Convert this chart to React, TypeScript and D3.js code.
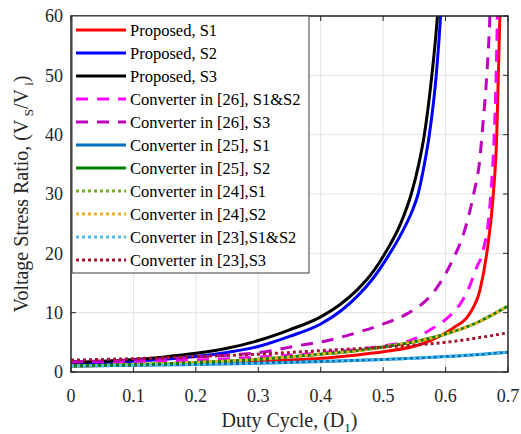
import React from 'react';
import * as d3 from 'd3';

// duty cycle samples for the slow curves
const dGrid = [0, 0.1, 0.2, 0.3, 0.4, 0.5, 0.6, 0.7];
const dGridGreen = [0, 0.1, 0.2, 0.3, 0.4, 0.45, 0.5, 0.55, 0.6, 0.65, 0.7];

// Proposed converter
const propS1D = [0, 0.1, 0.2, 0.27, 0.35, 0.4, 0.45, 0.5, 0.564, 0.59, 0.612, 0.639, 0.655, 0.666, 0.6765, 0.682, 0.6845, 0.687, 0.689];
const propS1V = [1.0, 1.2, 1.45, 1.7, 2.0, 2.3, 2.8, 3.4, 4.8, 6.0, 7.4, 9.9, 13.8, 20, 30, 40, 50, 60, 70];
const propS2D = [0, 0.05, 0.1, 0.15, 0.2, 0.25, 0.3, 0.35, 0.4, 0.431, 0.458, 0.484, 0.506, 0.53, 0.546, 0.556, 0.566, 0.574, 0.585, 0.592, 0.597];
const propS2V = [1.4, 1.55, 1.8, 2.15, 2.6, 3.3, 4.3, 6.0, 8.1, 10.2, 12.7, 15.8, 19.2, 23.5, 27, 30, 35, 40, 50, 60, 70];
const propS3D = [0, 0.05, 0.1, 0.15, 0.2, 0.25, 0.3, 0.35, 0.4, 0.43, 0.458, 0.484, 0.503, 0.528, 0.545, 0.557, 0.566, 0.578, 0.587, 0.593];
const propS3V = [1.6, 1.8, 2.1, 2.55, 3.15, 4.0, 5.3, 7.1, 9.3, 11.3, 13.8, 16.9, 20, 25, 30, 35, 40, 50, 60, 70];

// Converter in [26]
const c26S12D = [0, 0.1, 0.2, 0.3, 0.4, 0.45, 0.5, 0.548, 0.575, 0.604, 0.623, 0.637, 0.65, 0.659, 0.6725, 0.678, 0.681, 0.683, 0.685];
const c26S12V = [1.7, 1.8, 2.0, 2.5, 3.2, 3.7, 4.4, 5.5, 7.1, 9.2, 11.4, 14.1, 17.7, 20, 30, 40, 50, 60, 70];
const c26S3D = [0, 0.1, 0.2, 0.26, 0.311, 0.356, 0.415, 0.463, 0.495, 0.538, 0.57, 0.59, 0.61, 0.63, 0.645, 0.655, 0.66, 0.666, 0.671, 0.674];
const c26S3V = [1.75, 2.0, 2.5, 2.9, 3.4, 4.3, 5.4, 6.8, 7.9, 9.8, 12.2, 14.8, 18.6, 23.7, 30, 36, 42, 50, 60, 70];

// Converters in [25], [24], [23]
const c25S1V = [1.0, 1.12, 1.27, 1.47, 1.75, 2.1, 2.6, 3.35];
const c25S2V = [1.0, 1.25, 1.6, 2.15, 3.0, 3.5, 4.2, 5.1, 6.4, 8.3, 11.1];
const c24S1V = [1.0, 1.25, 1.6, 2.15, 3.0, 3.5, 4.2, 5.1, 6.4, 8.3, 11.1];
const c24S2V = [1.0, 1.25, 1.6, 2.15, 3.0, 3.5, 4.2, 5.1, 6.4, 8.3, 11.1];
const c23S12V = [1.0, 1.12, 1.27, 1.47, 1.75, 2.1, 2.6, 3.35];
const c23S3V = [2.0, 2.25, 2.6, 3.0, 3.6, 4.2, 5.0, 6.6];

const xTicks = [0, 0.1, 0.2, 0.3, 0.4, 0.5, 0.6, 0.7];
const yTicks = [0, 10, 20, 30, 40, 50, 60];

const zip = (xs: number[], ys: number[]) => xs.map((x, i) => [x, ys[i]] as [number, number]);

const DASH = '12,9';
const DOT = '3,3';

const series = [
  { name: 'Proposed, S1', color: '#ff0000', dash: null, pts: zip(propS1D, propS1V) },
  { name: 'Proposed, S2', color: '#0000ff', dash: null, pts: zip(propS2D, propS2V) },
  { name: 'Proposed, S3', color: '#000000', dash: null, pts: zip(propS3D, propS3V) },
  { name: 'Converter in [26], S1&S2', color: '#ff00ff', dash: DASH, pts: zip(c26S12D, c26S12V) },
  { name: 'Converter in [26], S3', color: '#c000c0', dash: DASH, pts: zip(c26S3D, c26S3V) },
  { name: 'Converter in [25], S1', color: '#0072bd', dash: null, pts: zip(dGrid, c25S1V) },
  { name: 'Converter in [25], S2', color: '#008000', dash: null, pts: zip(dGridGreen, c25S2V) },
  { name: 'Converter in [24],S1', color: '#77ac30', dash: DOT, pts: zip(dGridGreen, c24S1V) },
  { name: 'Converter in [24],S2', color: '#edb120', dash: DOT, pts: zip(dGridGreen, c24S2V) },
  { name: 'Converter in [23],S1&S2', color: '#4dbeee', dash: DOT, pts: zip(dGrid, c23S12V) },
  { name: 'Converter in [23],S3', color: '#a2142f', dash: DOT, pts: zip(dGrid, c23S3V) },
];

const W = 521;
const H = 434;
const left = 71;
const right = 508;
const top = 16;
const bottom = 372;

const FONT = 'Liberation Serif';

export default function App() {
  const x = d3.scaleLinear().domain([0, 0.7]).range([left, right]);
  const y = d3.scaleLinear().domain([0, 60]).range([bottom, top]);
  const line = d3
    .line<[number, number]>()
    .x((d) => x(d[0]))
    .y((d) => y(d[1]))
    .curve(d3.curveMonotoneX);

  const legX = 72;
  const legY = 16;
  const legW = 237;
  const legH = 257;
  const rowY = (i: number) => legY + 14 + i * 23;

  return (
    <svg
      width={W}
      height={H}
      style={{ position: 'absolute', left: 0, top: 0, background: '#fff' }}
    >
      <defs>
        <clipPath id="plot-clip">
          <rect x={left} y={top} width={right - left} height={bottom - top} />
        </clipPath>
      </defs>
      <rect x={left} y={top} width={right - left} height={bottom - top} fill="#fff" />

      {/* grid */}
      {xTicks.map((t) => (
        <line key={'gx' + t} x1={x(t)} x2={x(t)} y1={top} y2={bottom} stroke="#e3e3e3" strokeWidth={1} />
      ))}
      {yTicks.map((t) => (
        <line key={'gy' + t} x1={left} x2={right} y1={y(t)} y2={y(t)} stroke="#e3e3e3" strokeWidth={1} />
      ))}

      {/* curves */}
      <g clipPath="url(#plot-clip)">
        {series.map((s) => (
          <path
            key={s.name}
            d={line(s.pts) || ''}
            fill="none"
            stroke={s.color}
            strokeWidth={3}
            strokeDasharray={s.dash || undefined}
          />
        ))}
      </g>

      {/* axes box and ticks */}
      <rect x={left} y={top} width={right - left} height={bottom - top} fill="none" stroke="#262626" strokeWidth={1.5} />
      {xTicks.map((t) => (
        <g key={'tx' + t}>
          <line x1={x(t)} x2={x(t)} y1={bottom} y2={bottom - 5} stroke="#262626" />
          <line x1={x(t)} x2={x(t)} y1={top} y2={top + 5} stroke="#262626" />
          <text x={x(t)} y={402} textAnchor="middle" fontSize={18} fontFamily={FONT} fill="#262626">
            {d3.format('')(t)}
          </text>
        </g>
      ))}
      {yTicks.map((t) => (
        <g key={'ty' + t}>
          <line x1={left} x2={left + 5} y1={y(t)} y2={y(t)} stroke="#262626" />
          <line x1={right} x2={right - 5} y1={y(t)} y2={y(t)} stroke="#262626" />
          <text x={63} y={y(t)} dy="0.35em" textAnchor="end" fontSize={18} fontFamily={FONT} fill="#262626">
            {t}
          </text>
        </g>
      ))}

      {/* axis labels */}
      <text x={(left + right) / 2} y={427} textAnchor="middle" fontSize={20} fontFamily={FONT} fill="#262626">
        Duty Cycle, (D<tspan fontSize={13} dy={5}>1</tspan>
        <tspan dy={-5}>)</tspan>
      </text>
      <text
        transform={`translate(28, ${(top + bottom) / 2}) rotate(-90)`}
        textAnchor="middle"
        fontSize={20}
        fontFamily={FONT}
        fill="#262626"
      >
        Voltage Stress Ratio, (V<tspan fontSize={13} dy={5}> S</tspan>
        <tspan dy={-5}>/V</tspan>
        <tspan fontSize={13} dy={5}> i</tspan>
        <tspan dy={-5}>)</tspan>
      </text>

      {/* legend */}
      <rect x={legX} y={legY} width={legW} height={legH} fill="#fff" stroke="#3a3a3a" strokeWidth={1} />
      {series.map((s, i) => (
        <g key={'leg' + s.name}>
          <line
            x1={76}
            x2={126}
            y1={rowY(i)}
            y2={rowY(i)}
            stroke={s.color}
            strokeWidth={3}
            strokeDasharray={s.dash || undefined}
          />
          <text x={130} y={rowY(i)} dy="0.35em" fontSize={16.5} fontFamily={FONT} fill="#000">
            {s.name}
          </text>
        </g>
      ))}
    </svg>
  );
}
